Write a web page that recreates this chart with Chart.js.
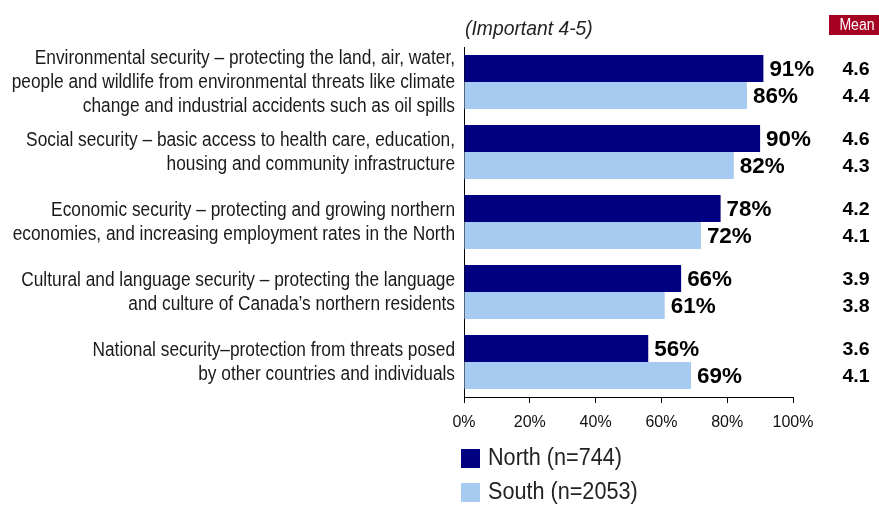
<!DOCTYPE html>
<html>
<head>
<meta charset="utf-8">
<script src="https://cdn.jsdelivr.net/npm/chart.js@4.4.1/dist/chart.umd.min.js"></script>
<style>
  html, body { margin: 0; padding: 0; background: #fff; }
  #wrap { width: 879px; height: 506px; position: relative; }
</style>
</head>
<body>
<div id="wrap"><canvas id="c"></canvas></div>
<script>
const categories = [
  ["Environmental security \u2013 protecting the land, air, water,", "people and wildlife from environmental threats like climate", "change and industrial accidents such as oil spills"],
  ["Social security \u2013 basic access to health care, education,", "housing and community infrastructure"],
  ["Economic security \u2013 protecting and growing northern", "economies, and increasing employment rates in the North"],
  ["Cultural and language security \u2013 protecting the language", "and culture of Canada\u2019s northern residents"],
  ["National security\u2013protection from threats posed", "by other countries and individuals"]
];
const seriesNames = ["North (n=744)", "South (n=2053)"];
const northValues = [91, 90, 78, 66, 56];
const southValues = [86, 82, 72, 61, 69];
const northMeans = ["4.6", "4.6", "4.2", "3.9", "3.6"];
const southMeans = ["4.4", "4.3", "4.1", "3.8", "4.1"];
const xTickValues = [0, 20, 40, 60, 80, 100];
const titleText = "(Important 4-5)";
const meanHeader = "Mean";

const SANS = '"Liberation Sans", Arial, sans-serif';
const colors = ["#000080", "#a6caf0"];

function drawText(ctx, text, x, y, font, sx, align, color) {
  ctx.save();
  ctx.font = font;
  ctx.fillStyle = color;
  ctx.textAlign = align;
  ctx.textBaseline = 'middle';
  ctx.translate(x, y);
  ctx.scale(sx, 1);
  ctx.fillText(text, 0, 0);
  ctx.restore();
}

const overlay = {
  id: 'overlay',
  afterDraw(chart) {
    const ctx = chart.ctx;
    // category labels (narrow style)
    const yScale = chart.scales.y;
    const lineH = 24;
    categories.forEach((lines, i) => {
      const cy = yScale.getPixelForTick(i);
      const top = cy - (lines.length - 1) * lineH / 2;
      lines.forEach((ln, j) => {
        drawText(ctx, ln, 455, top + j * lineH, '20px ' + SANS, 0.865, 'right', '#1a1a1a');
      });
    });
    const means = [northMeans, southMeans];
    chart.data.datasets.forEach((ds, di) => {
      const meta = chart.getDatasetMeta(di);
      meta.data.forEach((bar, i) => {
        drawText(ctx, ds.data[i] + '%', bar.x + 6, bar.y + 1, 'bold 22px ' + SANS, 1.02, 'left', '#000');
        drawText(ctx, means[di][i], 856, bar.y + 1, 'bold 19px ' + SANS, 1.03, 'center', '#000');
      });
    });
    // title
    drawText(ctx, titleText, 465, 29, 'italic 21px ' + SANS, 0.92, 'left', '#222');
    // mean header
    ctx.save();
    ctx.fillStyle = '#a50021';
    ctx.fillRect(829, 15, 50, 20);
    ctx.restore();
    drawText(ctx, meanHeader, 857, 25.5, '16px ' + SANS, 0.88, 'center', '#fff');
    // legend
    seriesNames.forEach((name, i) => {
      const y = 449 + i * 34;
      ctx.save();
      ctx.fillStyle = colors[i];
      ctx.fillRect(461, y, 19, 19);
      ctx.restore();
      drawText(ctx, name, 488, y + 10, '23px ' + SANS, 0.94, 'left', '#222');
    });
  }
};

new Chart(document.getElementById('c'), {
  type: 'bar',
  data: {
    labels: categories,
    datasets: [
      { label: seriesNames[0], data: northValues, backgroundColor: colors[0], categoryPercentage: 0.77, barPercentage: 1.0 },
      { label: seriesNames[1], data: southValues, backgroundColor: colors[1], categoryPercentage: 0.77, barPercentage: 1.0 }
    ]
  },
  options: {
    indexAxis: 'y',
    responsive: true,
    maintainAspectRatio: false,
    animation: false,
    layout: { padding: { top: 47, right: 86, bottom: 79, left: 0 } },
    plugins: { legend: { display: false }, tooltip: { enabled: false } },
    scales: {
      x: {
        min: 0, max: 100,
        afterBuildTicks(scale) { scale.ticks = xTickValues.map(v => ({ value: v })); },
        afterFit(scale) { scale.height = 30; },
        ticks: { callback: v => v + '%', color: '#111', font: { family: SANS, size: 16 }, padding: 10, maxRotation: 0 },
        grid: { drawOnChartArea: false, drawTicks: true, tickLength: 6, color: '#000' },
        border: { display: true, color: '#000', width: 1 }
      },
      y: {
        afterFit(scale) { scale.width = 464; },
        ticks: { display: false, autoSkip: false },
        grid: { display: false, drawTicks: false },
        border: { display: true, color: '#000', width: 1 }
      }
    }
  },
  plugins: [overlay]
});
</script>
</body>
</html>
